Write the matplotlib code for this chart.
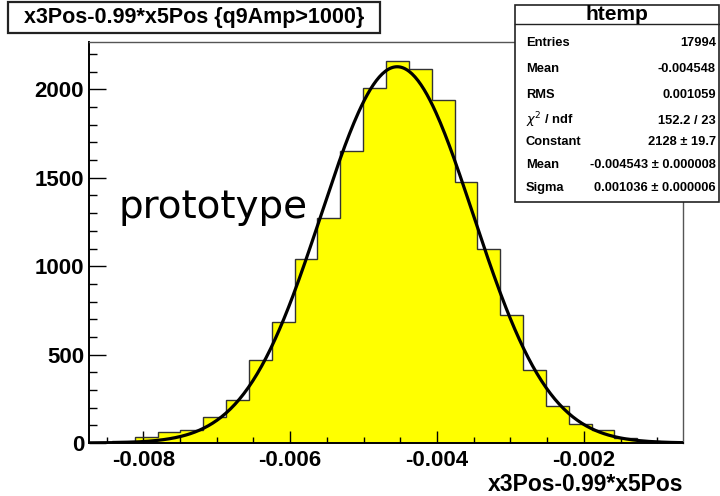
import numpy as np
import matplotlib
matplotlib.use("Agg")
import matplotlib.pyplot as plt
from matplotlib.patches import Rectangle
from matplotlib.lines import Line2D
from matplotlib.ticker import MultipleLocator, FormatStrFormatter

# histogram binning and contents
x_lo, x_hi = -0.00874, -0.00065
counts = [3, 10, 33, 62, 76, 148, 243, 472, 686, 1039, 1272, 1653, 2006,
          2160, 2113, 1940, 1478, 1097, 724, 411, 211, 106, 74, 27, 10, 3]

# gaussian fit parameters from the stats box
fit_const = 2128.0
fit_mean = -0.004543
fit_sigma = 0.001036

title = "x3Pos-0.99*x5Pos {q9Amp>1000}"
x_title = "x3Pos-0.99*x5Pos"
stats_name = "htemp"
stats_labels = ["Entries", "Mean", "RMS", r"$\chi^{2}$ / ndf", "Constant", "Mean", "Sigma"]
stats_values = ["17994", "-0.004548", "0.001059", "152.2 / 23",
                "2128 \u00b1 19.7", "-0.004543 \u00b1 0.000008", "0.001036 \u00b1 0.000006"]

plt.rcParams['font.family'] = ['Liberation Sans', 'DejaVu Sans']
plt.rcParams['axes.unicode_minus'] = False
plt.rcParams['mathtext.fontset'] = 'dejavusans'

W, H = 720, 496
fig = plt.figure(figsize=(W / 100, H / 100), dpi=100)
fig.patch.set_facecolor('white')


def px(x, y):
    # pixel position (top-left origin) -> figure fraction
    return x / W, 1 - y / H


# frame: left 89, right 683, top 42, bottom 443
ax = fig.add_axes([89 / W, 1 - 443 / H, (683 - 89) / W, (443 - 42) / H])

edges = np.linspace(x_lo, x_hi, len(counts) + 1)
ax.stairs(counts, edges, fill=True, color='#ffff00', zorder=1)
ax.stairs(counts, edges, color='#333333', lw=1.0, zorder=2)

xf = np.linspace(x_lo, x_hi, 400)
yf = fit_const * np.exp(-0.5 * ((xf - fit_mean) / fit_sigma) ** 2)
ax.plot(xf, yf, color='black', lw=2.3, zorder=3)

ax.set_xlim(x_lo, x_hi)
ax.set_ylim(0, 1.05 * max(counts))

ax.xaxis.set_major_locator(MultipleLocator(0.002))
ax.xaxis.set_minor_locator(MultipleLocator(0.0005))
ax.yaxis.set_major_locator(MultipleLocator(500))
ax.yaxis.set_minor_locator(MultipleLocator(100))
ax.xaxis.set_major_formatter(FormatStrFormatter('%g'))
ax.yaxis.set_major_formatter(FormatStrFormatter('%d'))

ax.tick_params(axis='x', which='major', direction='in', length=8.6, width=1.0, pad=5,
               labelsize=16)
ax.tick_params(axis='x', which='minor', direction='in', length=4.3, width=1.0)
ax.tick_params(axis='y', which='major', direction='in', length=12.2, width=1.0, pad=3.5,
               labelsize=16)
ax.tick_params(axis='y', which='minor', direction='in', length=6.1, width=1.0)
for lab in ax.get_xticklabels() + ax.get_yticklabels():
    lab.set_fontweight('bold')

for side in ['left', 'bottom']:
    ax.spines[side].set_linewidth(1.4)
    ax.spines[side].set_color('black')
for side in ['top', 'right']:
    ax.spines[side].set_linewidth(1.0)
    ax.spines[side].set_color('#555555')

fig.text(*px(683, 491), x_title, ha='right', va='baseline', fontsize=16.5,
         fontweight='bold')

# "prototype" label
fig.text(*px(118, 218), "prototype", ha='left', va='baseline', fontsize=28,
         family='DejaVu Sans', color='black')

# title box
x0, y0 = px(8, 33)
x1, y1 = px(380, 2)
fig.add_artist(Rectangle((x0, y0), x1 - x0, y1 - y0, transform=fig.transFigure,
                         facecolor='white', edgecolor='#222222', lw=1.6, zorder=5))
fig.text(*px(194, 18), title, ha='center', va='center', fontsize=15.5,
         fontweight='bold', zorder=6)

# stats box
sx0, sy0 = px(515, 202)
sx1, sy1 = px(719, 5)
fig.add_artist(Rectangle((sx0, sy0), sx1 - sx0, sy1 - sy0, transform=fig.transFigure,
                         facecolor='white', edgecolor='#222222', lw=1.2, zorder=5))
hx0, hy = px(515, 24)
hx1, _ = px(719, 24)
fig.add_artist(Line2D([hx0, hx1], [hy, hy], transform=fig.transFigure,
                      color='#222222', lw=1.0, zorder=6))
fig.text(*px(617, 15), stats_name, ha='center', va='center', fontsize=15,
         fontweight='bold', zorder=7)

row_y = [42.7, 69.3, 95, 120.5, 141.7, 165, 188.3]
for lab, val, ry in zip(stats_labels, stats_values, row_y):
    fig.text(*px(526, ry), lab, ha='left', va='center', fontsize=9.3,
             fontweight='bold', zorder=7)
    fig.text(*px(716, ry), val, ha='right', va='center', fontsize=9.3,
             fontweight='bold', zorder=7)

fig.savefig('out.png', dpi=100)
